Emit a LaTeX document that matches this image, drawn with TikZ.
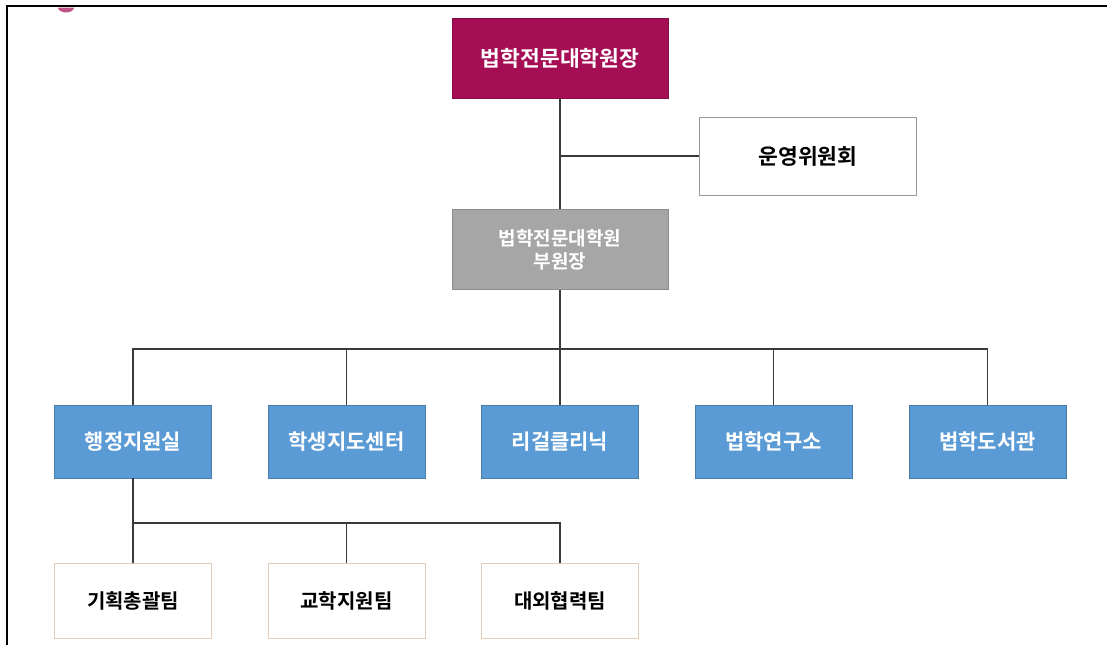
\documentclass[tikz,border=0pt]{standalone}
\usepackage{fontspec}
\newfontfamily\kr{Noto Sans CJK KR}[BoldFont={* Bold}]
\definecolor{crim}{HTML}{A50E55}
\definecolor{vgray}{HTML}{A6A6A6}
\definecolor{blu}{HTML}{5B9BD5}
\definecolor{ln}{HTML}{3A3A3A}
\definecolor{tan}{HTML}{E2CDB6}
\begin{document}
\begin{tikzpicture}[x=1pt,y=-1pt,
  box/.style={rectangle,inner sep=0pt,align=center},
  topbox/.style={box,fill=crim,text=white,draw=crim!80!black,line width=0.6pt,minimum width=216pt,minimum height=80pt,font=\kr\bfseries\fontsize{21.5}{24}\selectfont},
  vicebox/.style={box,fill=vgray,text=white,draw=vgray!85!black,line width=0.6pt,minimum width=216pt,minimum height=80pt,font=\kr\bfseries\fontsize{19}{23}\selectfont},
  commbox/.style={box,fill=white,text=black,draw=gray!80,line width=1pt,minimum width=217pt,minimum height=78pt,font=\kr\bfseries\fontsize{21.5}{24}\selectfont},
  bluebox/.style={box,fill=blu,text=white,draw=blu!80!black,line width=0.6pt,minimum width=157pt,minimum height=73pt,font=\kr\bfseries\fontsize{21}{24}\selectfont},
  teambox/.style={box,fill=white,text=black,draw=tan,line width=1pt,minimum width=157pt,minimum height=75pt,font=\kr\bfseries\fontsize{20}{24}\selectfont},
  conn/.style={draw=ln,line width=1.3pt}]
\useasboundingbox (0,0) rectangle (1107,645);
\fill[white] (0,0) rectangle (1107,645);
% frame
\draw[black,line width=1.6pt] (7,645) -- (7,6) -- (1107,6);
\fill[crim!70] (58,7.5) arc[start angle=180,end angle=360,x radius=8pt,y radius=5pt] -- cycle;
% nodes
\node[topbox] (dean) at (560,58) {법학전문대학원장};
\node[commbox] (comm) at (808,156) {운영위원회};
\node[vicebox] (vice) at (560,249.5) {법학전문대학원\\부원장};
\node[bluebox] (admin) at (133,441.5) {행정지원실};
\node[bluebox] (stud) at (346.5,441.5) {학생지도센터};
\node[bluebox] (legal) at (560,441.5) {리걸클리닉};
\node[bluebox] (inst) at (773.5,441.5) {법학연구소};
\node[bluebox] (lib) at (987.5,441.5) {법학도서관};
\node[teambox] (plan) at (133,601) {기획총괄팀};
\node[teambox] (acad) at (346.5,601) {교학지원팀};
\node[teambox] (ext) at (560,601) {대외협력팀};
\coordinate (j1) at (560,156);
\coordinate (bar) at (560,349);
\coordinate (bar2) at (133,523);
% connectors
\draw[conn] (dean.south) -- (vice.north);
\draw[conn] (j1) -- (comm.west);
\draw[conn] (vice.south) -- (bar);
\draw[conn] (admin.north) |- (bar) -| (lib.north);
\draw[conn] (stud.north) -- (stud.north |- bar);
\draw[conn] (legal.north) -- (bar);
\draw[conn] (inst.north) -- (inst.north |- bar);
\draw[conn] (admin.south) -- (plan.north);
\draw[conn] (bar2) -| (ext.north);
\draw[conn] (acad.north) -- (acad.north |- bar2);
\end{tikzpicture}
\end{document}
